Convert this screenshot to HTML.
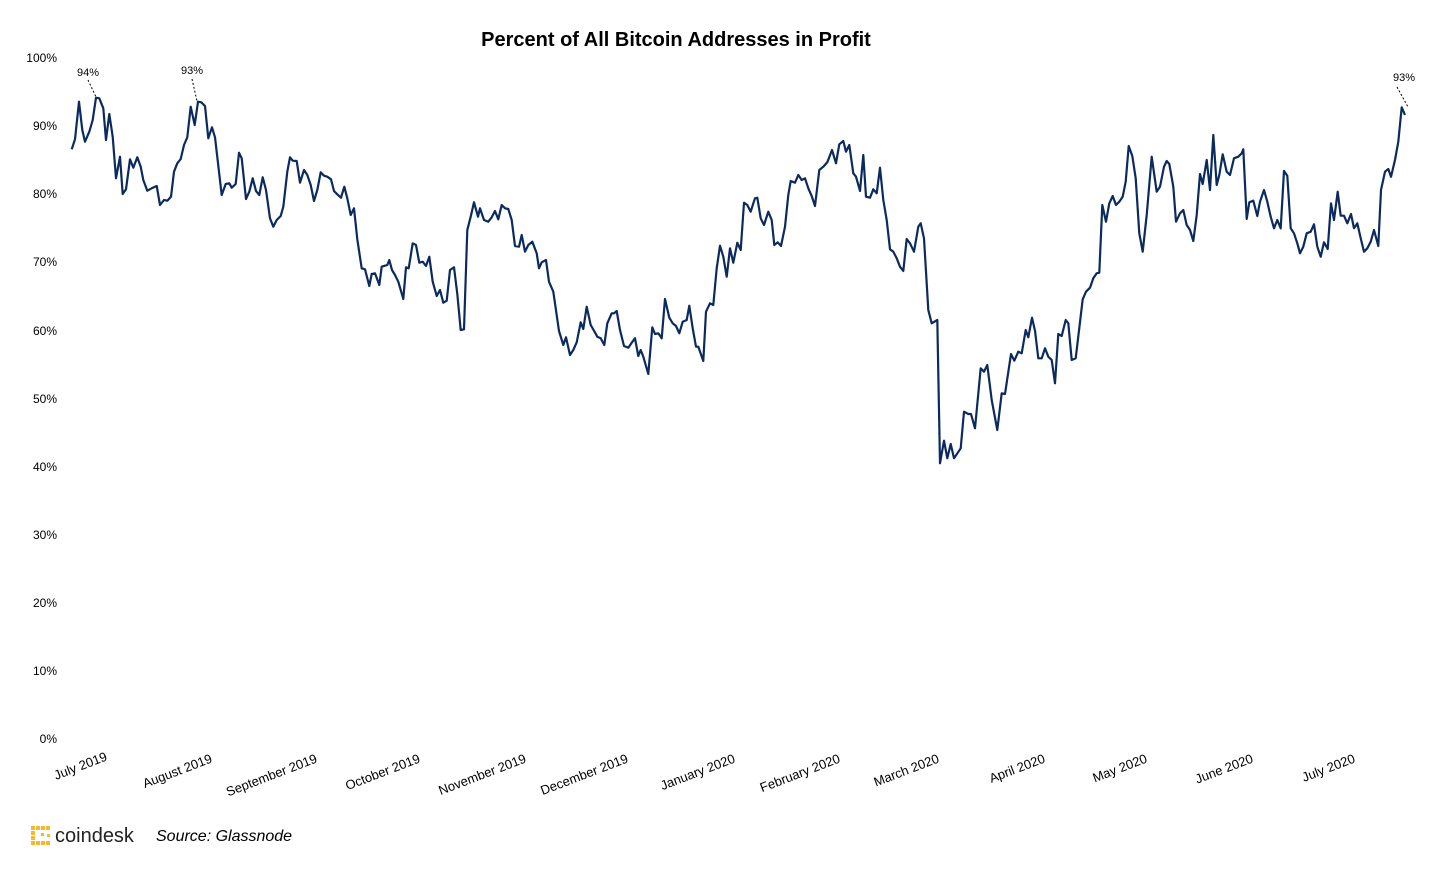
<!DOCTYPE html>
<html><head><meta charset="utf-8"><style>
html,body{margin:0;padding:0;background:#fff;}
svg{display:block;font-family:"Liberation Sans","DejaVu Sans",sans-serif;}
</style></head><body>
<svg id="s" width="1444" height="875" viewBox="0 0 1444 875" xmlns="http://www.w3.org/2000/svg">
<rect width="1444" height="875" fill="#fff"/>
<text x="676" y="46" text-anchor="middle" font-size="20" font-weight="bold" fill="#000">Percent of All Bitcoin Addresses in Profit</text>
<g font-size="12" fill="#000" text-anchor="end">
<text x="57" y="62">100%</text><text x="57" y="130">90%</text><text x="57" y="198">80%</text>
<text x="57" y="266">70%</text><text x="57" y="335">60%</text><text x="57" y="403">50%</text>
<text x="57" y="471">40%</text><text x="57" y="539">30%</text><text x="57" y="607">20%</text>
<text x="57" y="675">10%</text><text x="57" y="743">0%</text>
</g>
<g font-size="13" fill="#000" text-anchor="end">
<text transform="translate(108,760) rotate(-21)">July 2019</text>
<text transform="translate(213,762) rotate(-21)">August 2019</text>
<text transform="translate(318,762) rotate(-21)">September 2019</text>
<text transform="translate(421,762) rotate(-21)">October 2019</text>
<text transform="translate(527,762) rotate(-21)">November 2019</text>
<text transform="translate(629,762) rotate(-21)">December 2019</text>
<text transform="translate(736,762) rotate(-21)">January 2020</text>
<text transform="translate(841,762) rotate(-21)">February 2020</text>
<text transform="translate(940,762) rotate(-21)">March 2020</text>
<text transform="translate(1046,762) rotate(-21)">April 2020</text>
<text transform="translate(1148,762) rotate(-21)">May 2020</text>
<text transform="translate(1254,762) rotate(-21)">June 2020</text>
<text transform="translate(1356,762) rotate(-21)">July 2020</text>
</g>
<g font-size="11" fill="#000" text-anchor="middle">
<text x="88" y="76">94%</text><text x="192" y="74">93%</text><text x="1404" y="81">93%</text>
</g>
<g stroke="#000" stroke-width="1" stroke-dasharray="2,2">
<line x1="88" y1="80" x2="96" y2="97"/><line x1="192" y1="79" x2="197" y2="101"/><line x1="1397" y1="87" x2="1408" y2="107"/>
</g>
<polyline id="pl" fill="none" stroke="#0b2a5e" stroke-width="2.2" stroke-linejoin="round" points=""/>
<g fill="#f5b82e">
<rect x="31" y="826" width="4" height="4"/><rect x="36" y="826" width="4" height="4"/><rect x="41" y="826" width="4" height="4"/><rect x="46" y="826" width="4" height="4"/>
<rect x="31" y="831" width="4" height="4"/><rect x="31" y="836" width="4" height="4"/><rect x="31" y="841" width="4" height="4"/>
<rect x="36" y="841" width="4" height="4"/><rect x="41" y="841" width="4" height="4"/><rect x="46" y="841" width="4" height="4"/>
<rect x="41" y="833" width="3" height="3"/><rect x="47" y="834" width="3" height="3"/>
</g>
<text x="55" y="842" font-size="20" fill="#222">coindesk</text>
<text x="156" y="841" font-size="16" font-style="italic" fill="#000">Source: Glassnode</text>
</svg>
<script>
var z1=[[35,268],[45,238],[57,125],[67,210],[75,245],[88,215],[98,180],[108,113],[118,115],[130,145],[138,240],[148,162],[158,230],[168,355],[180,290],[188,402],[198,388],[210,298],[220,323],[232,292],[242,320],[250,360],[262,392],[275,385],[290,378],[300,435],[312,420],[322,422],[333,410],[342,335],[352,310],[362,297],[372,255],[382,232],[392,140],[404,195],[414,125],[424,127],[435,138],[445,235],[456,202],[465,232],[485,405],[497,372],[508,370],[515,383],[527,372],[537,278],[545,295],[558,417],[568,395],[578,355],[588,393],[598,405],[608,352],[618,390],[630,475],[640,500],[650,480],[662,468],[670,440],[682,335],[690,292],[698,302],[710,303],[720,368],[732,330],[742,345],[752,375],[762,423],[772,390],[782,337],[792,347],[802,350],[813,358],[822,393],[832,403],[843,413],[853,380],[862,415],[872,465],[882,445],[892,538],[905,625],[915,628],[928,678],[935,642],[945,640],[958,675],[965,620],[975,617],[982,615],[988,600],[996,630],[1005,645],[1015,665],[1030,717],[1038,622],[1046,625],[1058,550],[1068,555],[1078,608],[1088,605],[1098,618],[1108,590],[1118,665],[1130,708],[1140,690],[1150,728],[1160,722],[1170,630],[1182,622],[1192,702],[1202,810],[1212,808],[1222,510],[1232,470],[1242,427],[1254,470]];
var z2=[[120,235],[132,270],[145,275],[155,262],[165,243],[175,268],[185,225],[195,235],[205,237],[215,270],[225,348],[237,350],[245,315],[255,365],[265,345],[277,335],[290,370],[297,415],[305,397],[318,390],[327,455],[340,485],[357,603],[370,645],[378,622],[390,675],[400,660],[410,637],[422,577],[430,597],[440,530],[452,585],[462,602],[472,620],[482,625],[493,645],[502,580],[515,550],[522,550],[530,543],[540,600],[552,648],[565,653],[575,638],[585,625],[595,678],[602,660],[610,680],[625,732],[637,592],[645,612],[655,610],[665,625],[675,507],[688,563],[698,580],[708,588],[718,610],[728,575],[740,570],[748,527],[758,595],[768,650],[775,650],[790,693],[798,545],[810,520],[820,525],[830,415],[840,347],[850,380],[860,440],[870,355],[880,398],[892,338],[902,360],[912,218],[922,225],[932,245],[940,220],[945,205],[952,203],[962,265],[972,285],[985,245],[995,270],[1003,345],[1013,337],[1023,348],[1035,290],[1045,195],[1052,153],[1065,158],[1075,135],[1085,150],[1095,145],[1105,175],[1115,198],[1125,228],[1138,120],[1150,110],[1162,97],[1176,60],[1188,100],[1198,43],[1210,33],[1218,65],[1228,45],[1240,130],[1248,140],[1260,183],[1270,75],[1278,200],[1290,203],[1300,178],[1310,190],[1320,113],[1330,210],[1340,270],[1350,358],[1360,365],[1370,385],[1380,410],[1390,423],[1400,327],[1410,340],[1422,365],[1435,290],[1442,280],[1452,325],[1465,540],[1475,580],[1492,570]];
var z3=[[112,780],[120,1210],[132,1142],[142,1195],[152,1152],[162,1195],[182,1165],[192,1055],[205,1062],[213,1062],[225,1105],[242,925],[252,935],[262,915],[275,1020],[292,1110],[305,1000],[315,1002],[333,882],[343,902],[355,875],[365,880],[377,810],[385,832],[396,773],[405,812],[415,895],[425,895],[435,865],[445,890],[455,900],[465,970],[475,822],[485,828],[497,780],[505,790],[515,900],[527,895],[548,718],[558,695],[570,683],[580,655],[590,640],[598,638],[607,435],[618,485],[628,430],[638,408],[648,435],[658,425],[668,410],[677,365],[686,258],[697,288],[707,355],[718,520],[728,575],[740,465],[755,290],[770,395],[780,380],[792,320],[800,303],[808,312],[820,380],[828,485],[840,460],[850,450],[860,495],[870,510],[880,543],[890,465],[900,342],[908,372],[920,300],[930,390],[940,225],[950,375],[958,345],[968,283],[980,335],[990,345],[1002,295],[1015,290],[1025,280],[1030,268],[1040,477],[1048,427],[1060,422],[1072,468],[1080,425],[1092,390],[1102,425],[1112,470],[1122,505],[1132,480],[1142,505],[1152,333],[1162,347],[1172,505],[1182,520],[1192,550],[1200,580],[1210,560],[1220,520],[1232,515],[1242,493],[1252,560],[1262,590],[1272,547],[1283,567],[1293,430],[1302,480],[1313,395],[1322,467],[1332,467],[1342,490],[1353,462],[1362,505],[1372,490],[1382,535],[1392,575],[1402,565],[1412,545],[1422,510],[1435,558],[1443,390],[1455,335],[1465,327],[1473,350],[1485,300],[1495,245],[1505,142],[1515,165]];
var p=[];
z1.forEach(function(a){p.push((60+a[0]/3).toFixed(1)+","+(60+a[1]/3).toFixed(1));});
z2.forEach(function(a){p.push((440+a[0]/3).toFixed(1)+","+(130+a[1]/3).toFixed(1));});
z3.forEach(function(a){p.push((900+a[0]/3).toFixed(1)+","+(60+a[1]/3).toFixed(1));});
document.getElementById("pl").setAttribute("points",p.join(" "));
</script>
</body></html>
